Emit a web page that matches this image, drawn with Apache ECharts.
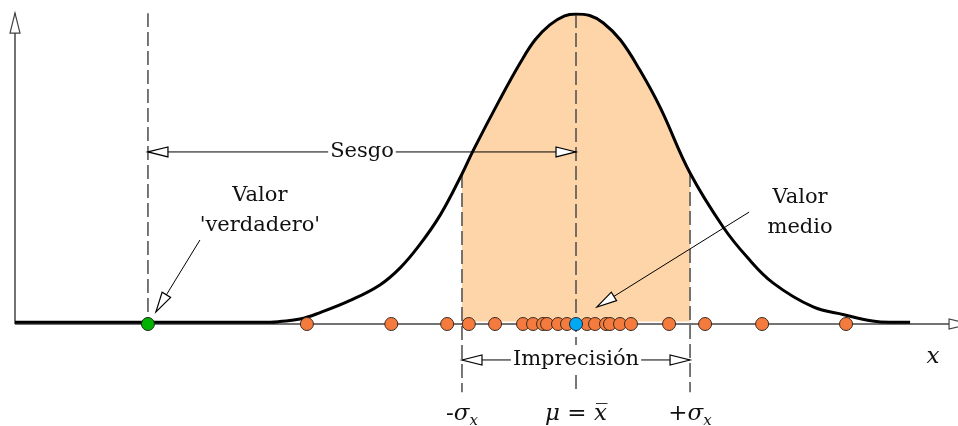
<!DOCTYPE html>
<html>
<head>
<meta charset="utf-8">
<script src="https://cdn.jsdelivr.net/npm/echarts@6/dist/echarts.min.js"></script>
<style>
  html, body { margin: 0; padding: 0; background: #fff; }
  #chart { width: 958px; height: 426px; }
</style>
</head>
<body>
<div id="chart"></div>
<script>
// Horizontal scale in units of sigma around the mean; vertical scale is relative density.
const xMin = -4.92, xMax = 3.35;
const yMin = -0.32, yMax = 1.0;

// Distribution curve (relative density)
const curveX = [-4.92, -2.68, -2.6, -2.42, -2.25, -1.98, -1.72, -1.54, -1.37, -1.19, -1.0, -0.9, -0.67, -0.49, -0.36, -0.23, -0.1, 0.0, 0.12, 0.24, 0.39, 0.56, 0.74, 1.0, 1.29, 1.5, 1.73, 2.08, 2.35, 2.6, 2.75, 2.93];
const curveY = [0.006, 0.006, 0.008, 0.016, 0.036, 0.076, 0.126, 0.182, 0.256, 0.352, 0.484, 0.561, 0.723, 0.842, 0.916, 0.965, 0.994, 1.0, 0.995, 0.971, 0.916, 0.819, 0.697, 0.487, 0.313, 0.216, 0.132, 0.055, 0.03, 0.01, 0.006, 0.006];

// Individual measurements, the true value and the mean
const sampleX = [-2.36, -1.62, -1.13, -0.94, -0.71, -0.465, -0.377, -0.289, -0.254, -0.158, -0.079, 0.096, 0.167, 0.263, 0.298, 0.386, 0.482, 0.816, 1.132, 1.632, 2.368];
const trueValue = -3.754;
const meanValue = 0;

// Vertical guide lines: true value, -sigma, mean, +sigma
const guideX = [trueValue, -1, meanValue, 1];
const guideTop = [1.003, 0.484, 1.0, 0.487];
const guideBottom = [0, -0.22, -0.22, -0.22];

// Arrows: [x1, y1, x2, y2, head at start, head at end]
const arrowSegments = [
  [trueValue, 0.555, meanValue, 0.555, 1, 1],
  [-1, -0.116, 1, -0.116, 1, 1],
  [-3.298, 0.271, -3.684, 0.039, 0, 1],
  [1.518, 0.361, 0.184, 0.055, 0, 1]
];
// Axis arrows: vertical axis and horizontal axis
const axisSegments = [
  [xMin, 0, xMin, 1.003, 0, 1],
  [xMin, 0, 3.447, 0, 0, 1]
];

// Text annotations
const labelTexts = ['Sesgo', 'Imprecisión', 'Valor\n\'verdadero\'', 'Valor\nmedio',
  '-{i|σ}{s|x}', '{i|μ} = {i|x\u0305}', '+{i|σ}{s|x}', '{i|x}'];
const labelX = [-1.877, 0, -2.772, 1.965, -1, 0, 1, 3.131];
const labelY = [0.555, -0.116, 0.365, 0.358, -0.29, -0.29, -0.29, -0.106];

const serif = '"DejaVu Serif", "Liberation Serif", serif';
const mathRich = {
  i: { fontFamily: serif, fontStyle: 'italic', fontSize: 23, lineHeight: 30, verticalAlign: 'middle', color: '#111' },
  s: { fontFamily: serif, fontStyle: 'italic', fontSize: 15, lineHeight: 30, verticalAlign: 'bottom', color: '#111' }
};

const chart = echarts.init(document.getElementById('chart'), null, { renderer: 'canvas' });

function triangle(tip, from, len, width) {
  const dx = tip[0] - from[0], dy = tip[1] - from[1];
  const d = Math.sqrt(dx * dx + dy * dy) || 1;
  const ux = dx / d, uy = dy / d;
  const bx = tip[0] - ux * len, by = tip[1] - uy * len;
  const nx = -uy * width / 2, ny = ux * width / 2;
  return [[tip[0], tip[1]], [bx + nx, by + ny], [bx - nx, by - ny]];
}

function arrowRenderer(list, color, lineWidth) {
  return function (params, api) {
    const a = list[params.dataIndex];
    const p1 = api.coord([a[0], a[1]]);
    const p2 = api.coord([a[2], a[3]]);
    const children = [{
      type: 'line',
      shape: { x1: p1[0], y1: p1[1], x2: p2[0], y2: p2[1] },
      style: { stroke: color, lineWidth: lineWidth }
    }];
    const headStyle = { fill: '#fff', stroke: color, lineWidth: 1.2 };
    if (a[4]) children.push({ type: 'polygon', shape: { points: triangle(p1, p2, 20, 10) }, style: headStyle });
    if (a[5]) children.push({ type: 'polygon', shape: { points: triangle(p2, p1, 20, 10) }, style: headStyle });
    return { type: 'group', children: children };
  };
}

function labelRenderer(params, api) {
  const i = params.dataIndex;
  const p = api.coord([api.value(0), api.value(1)]);
  const isMath = i >= 4;
  const boxed = i <= 1;
  return {
    type: 'text',
    x: p[0], y: p[1],
    style: {
      text: labelTexts[i],
      fontFamily: serif,
      fontSize: isMath ? 23 : 21,
      fontStyle: 'normal',
      lineHeight: 30,
      fill: '#111',
      align: 'center',
      verticalAlign: 'middle',
      backgroundColor: boxed ? '#fff' : null,
      padding: boxed ? [0, 2] : 0,
      rich: isMath ? mathRich : undefined
    }
  };
}

const curveData = curveX.map((x, i) => [x, curveY[i]]);
const bandData = curveData.filter(d => d[0] >= -1 && d[0] <= 1);

const option = {
  animation: false,
  grid: { left: 15, right: 0, top: 14, bottom: 2.8 },
  xAxis: { type: 'value', min: xMin, max: xMax, show: false },
  yAxis: { type: 'value', min: yMin, max: yMax, show: false },
  series: [
    {
      // shaded band between -sigma and +sigma
      type: 'line', data: bandData, smooth: 0.4,
      showSymbol: false, silent: true, z: 1,
      lineStyle: { width: 0 },
      areaStyle: { color: '#FDD5A9', opacity: 1, origin: 0.008 }
    },
    {
      type: 'custom', z: 2, clip: false, silent: true,
      data: axisSegments.map(a => [a[0], a[1]]),
      renderItem: arrowRenderer(axisSegments, '#444', 1.5)
    },
    ...guideX.map((x, i) => ({
      type: 'line', z: 3, silent: true, showSymbol: false,
      data: [[x, guideTop[i]], [x, guideBottom[i]]],
      lineStyle: { color: '#4a4a4a', width: 1.5, type: [14, 5] }
    })),
    {
      type: 'line', data: curveData, smooth: 0.4,
      showSymbol: false, silent: true, z: 4,
      lineStyle: { color: '#000', width: 3 }
    },
    {
      type: 'scatter', z: 5, symbolSize: 13, silent: true,
      data: sampleX.map(x => [x, 0]),
      itemStyle: { color: '#F47B3D', borderColor: '#3a2a20', borderWidth: 1, opacity: 1 }
    },
    {
      type: 'scatter', z: 6, symbolSize: 13, silent: true,
      data: [[trueValue, 0]],
      itemStyle: { color: '#00B300', borderColor: '#1a2a1a', borderWidth: 1, opacity: 1 }
    },
    {
      type: 'scatter', z: 6, symbolSize: 13, silent: true,
      data: [[meanValue, 0]],
      itemStyle: { color: '#00A9F2', borderColor: '#1a2a3a', borderWidth: 1, opacity: 1 }
    },
    {
      type: 'custom', z: 7, clip: false, silent: true,
      data: arrowSegments.map(a => [a[0], a[1]]),
      renderItem: arrowRenderer(arrowSegments, '#000', 1)
    },
    {
      type: 'custom', z: 8, clip: false, silent: true,
      data: labelX.map((x, i) => [x, labelY[i]]),
      renderItem: labelRenderer
    }
  ]
};

chart.setOption(option);
</script>
</body>
</html>
